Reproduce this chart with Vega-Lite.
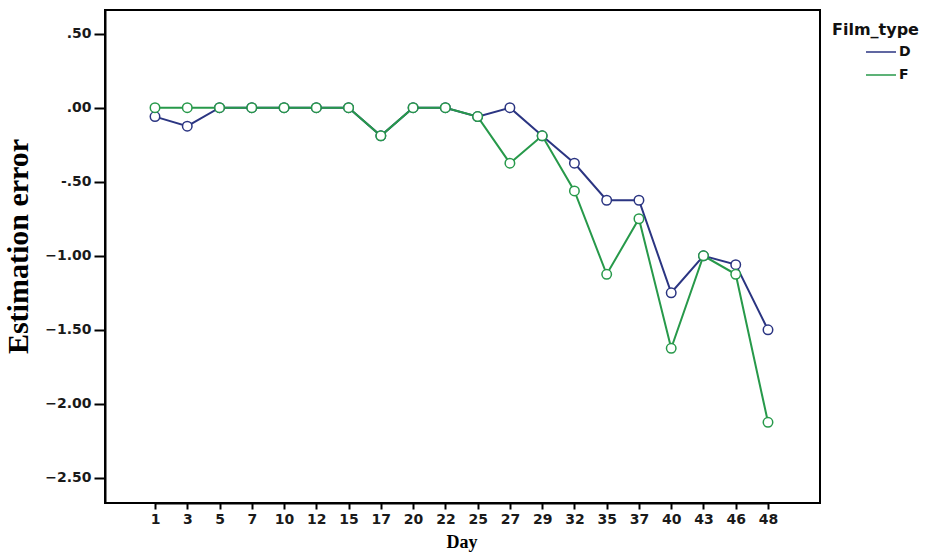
{
  "$schema": "https://vega.github.io/schema/vega-lite/v6.json",
  "width": 715,
  "height": 493,
  "autosize": {"type": "none"},
  "padding": {"left": 105, "top": 10, "right": 121, "bottom": 50},
  "background": "white",
  "config": {
    "view": {"stroke": "black", "strokeWidth": 2},
    "axis": {"grid": false, "domainColor": "black", "domainWidth": 2, "tickColor": "black", "tickWidth": 2, "labelFont": "DejaVu Sans", "labelColor": "#1a1a1a", "titleFont": "Liberation Serif", "titleColor": "black", "titleFontWeight": "bold"}
  },
  "data": {"values": [
    {"Day": 1, "Film_type": "D", "err": -0.06},
    {"Day": 3, "Film_type": "D", "err": -0.125},
    {"Day": 5, "Film_type": "D", "err": 0},
    {"Day": 7, "Film_type": "D", "err": 0},
    {"Day": 10, "Film_type": "D", "err": 0},
    {"Day": 12, "Film_type": "D", "err": 0},
    {"Day": 15, "Film_type": "D", "err": 0},
    {"Day": 17, "Film_type": "D", "err": -0.19},
    {"Day": 20, "Film_type": "D", "err": 0},
    {"Day": 22, "Film_type": "D", "err": 0},
    {"Day": 25, "Film_type": "D", "err": -0.06},
    {"Day": 27, "Film_type": "D", "err": 0},
    {"Day": 29, "Film_type": "D", "err": -0.19},
    {"Day": 32, "Film_type": "D", "err": -0.375},
    {"Day": 35, "Film_type": "D", "err": -0.625},
    {"Day": 37, "Film_type": "D", "err": -0.625},
    {"Day": 40, "Film_type": "D", "err": -1.25},
    {"Day": 43, "Film_type": "D", "err": -1.0},
    {"Day": 46, "Film_type": "D", "err": -1.06},
    {"Day": 48, "Film_type": "D", "err": -1.5},
    {"Day": 1, "Film_type": "F", "err": 0},
    {"Day": 3, "Film_type": "F", "err": 0},
    {"Day": 5, "Film_type": "F", "err": 0},
    {"Day": 7, "Film_type": "F", "err": 0},
    {"Day": 10, "Film_type": "F", "err": 0},
    {"Day": 12, "Film_type": "F", "err": 0},
    {"Day": 15, "Film_type": "F", "err": 0},
    {"Day": 17, "Film_type": "F", "err": -0.19},
    {"Day": 20, "Film_type": "F", "err": 0},
    {"Day": 22, "Film_type": "F", "err": 0},
    {"Day": 25, "Film_type": "F", "err": -0.06},
    {"Day": 27, "Film_type": "F", "err": -0.375},
    {"Day": 29, "Film_type": "F", "err": -0.19},
    {"Day": 32, "Film_type": "F", "err": -0.5625},
    {"Day": 35, "Film_type": "F", "err": -1.125},
    {"Day": 37, "Film_type": "F", "err": -0.75},
    {"Day": 40, "Film_type": "F", "err": -1.625},
    {"Day": 43, "Film_type": "F", "err": -1.0},
    {"Day": 46, "Film_type": "F", "err": -1.125},
    {"Day": 48, "Film_type": "F", "err": -2.125}
  ]},
  "mark": {"type": "line", "strokeWidth": 2, "point": {"filled": false, "fill": "white", "size": 90, "strokeWidth": 1.5}},
  "encoding": {
    "x": {"field": "Day", "type": "ordinal", "sort": "ascending",
      "scale": {"type": "point", "range": [50, 663], "padding": 0},
      "axis": {"title": "Day", "labelAngle": 0, "labelFontSize": 14, "labelFontWeight": "bold", "tickSize": 6, "labelPadding": 3, "titleFontSize": 18, "titlePadding": 7}},
    "y": {"field": "err", "type": "quantitative",
      "scale": {"domain": [-2.67, 0.66], "nice": false, "zero": false},
      "axis": {"title": "Estimation error", "values": [0.5, 0, -0.5, -1, -1.5, -2, -2.5],
        "labelExpr": "datum.value == 0.5 ? '.50' : datum.value == 0 ? '.00' : datum.value == -0.5 ? '-.50' : format(datum.value, '.2f')",
        "labelFontSize": 14, "labelFontWeight": "bold", "tickSize": 11, "labelPadding": 3, "titleFontSize": 30, "titlePadding": 11, "titleY": 236}},
    "color": {"field": "Film_type", "type": "nominal",
      "scale": {"domain": ["D", "F"], "range": ["#2b3582", "#27994a"]},
      "legend": {"title": "Film_type", "orient": "none", "legendX": 727, "legendY": 12, "padding": 0, "symbolType": "stroke", "symbolStrokeWidth": 1.5, "symbolSize": 900, "symbolOffset": 33, "titleFont": "DejaVu Sans", "titleFontSize": 16, "titleFontWeight": "bold", "titleColor": "#111", "labelFont": "DejaVu Sans", "labelFontSize": 14, "labelFontWeight": "bold", "labelColor": "#111", "labelOffset": 2, "rowPadding": -10, "titlePadding": -2}
    }
  }
}
